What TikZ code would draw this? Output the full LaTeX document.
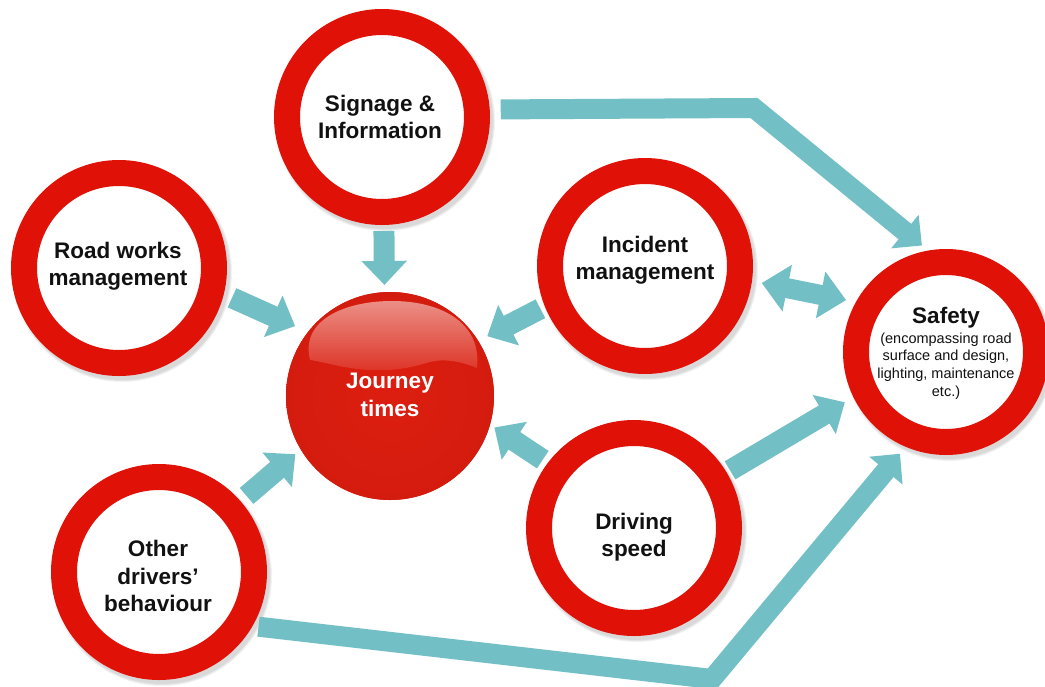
\documentclass[tikz,border=0pt]{standalone}
\usepackage{fontspec}
\setmainfont{Liberation Sans}
\usetikzlibrary{arrows.meta}
\definecolor{ringred}{HTML}{E01208}
\definecolor{tealc}{HTML}{72BFC5}
\definecolor{ballred}{HTML}{DC1E10}
\definecolor{ballout}{HTML}{D41C0E}
\definecolor{glosstop}{HTML}{EB8F86}
\definecolor{glossbot}{HTML}{DE3427}
\definecolor{txt}{HTML}{111111}
\begin{document}
\begin{tikzpicture}[x=1pt,y=-1pt,
  ring/.style={circle, draw=ringred, line width=26pt, fill=white, minimum size=#1, inner sep=0pt},
  lbl/.style={font=\fontsize{22.5}{27.5}\selectfont\bfseries, align=center, text=txt, inner sep=0pt},
  small/.style={font=\fontsize{14.5}{17.7}\selectfont, align=center, text=txt, inner sep=0pt},
  arr/.style={draw=tealc, line width=21pt, -{Triangle[width=44pt,length=24pt]}},
  darr/.style={draw=tealc, line width=20pt, {Triangle[width=46pt,length=26pt]}-{Triangle[width=46pt,length=26pt]}},
  barr/.style={draw=tealc, line width=20pt, -{Triangle[width=42pt,length=22pt]}},
  shadowc/.style={fill=black, opacity=0.05}
]
\useasboundingbox (0,0) rectangle (1045,686);
\fill[white] (0,0) rectangle (1045,686);

% soft shadows
\foreach \cx/\cy/\r in {382/117/108, 119/268/108, 645/266/108, 946/352/103, 634/528/108, 159/572/108}{
  \foreach \d in {0,1,2}{
    \fill[shadowc] (\cx+3,\cy+4) circle (\r+\d);
  }
}

% nodes
\node[ring=190pt] (sig) at (382,117) {};
\node[ring=190pt] (rw)  at (119,268) {};
\node[ring=190pt] (inc) at (645,266) {};
\node[ring=180pt] (saf) at (946,352) {};
\node[ring=190pt] (ds)  at (634,528) {};
\node[ring=190pt] (od)  at (159,572) {};
\node[circle, fill=ballred, minimum size=208pt, inner sep=0pt] (jt) at (390,396) {};
\shade[inner color=ballred, outer color=ballout] (390,396) circle (104);
\shade[top color=glosstop, bottom color=glossbot]
  (310,360) .. controls (300,320) and (345,301) .. (392,301)
  .. controls (440,301) and (482,322) .. (477,368)
  .. controls (462,362) and (445,358) .. (430,362)
  .. controls (410,368) and (395,371) .. (370,370)
  .. controls (345,369) and (325,362) .. (310,360) -- cycle;

% labels
\node[lbl] (sigt) at (380,117) {Signage \&\\Information};
\node[lbl] (rwt)  at (118,266) {Road works\\management};
\node[lbl] (inct) at (645,260) {Incident\\management};
\node[lbl, text=white] (jtt) at (390,395) {Journey\\times};
\node[lbl] (saft) at (946,318) {Safety};
\node[small] (safb) at (946,366) {(encompassing road\\surface and design,\\lighting, maintenance\\etc.)};
\node[lbl] (dst) at (634,537) {Driving\\speed};
\node[lbl] (odt) at (158,576) {Other\\drivers’\\behaviour};

% bend points
\coordinate (b1) at (754,108);
\coordinate (b2) at (712,679);

% connectors
\draw[arr, shorten <=6pt, shorten >=7pt] (sig.-89) -- (jt.93);
\draw[arr, shorten <=9pt, shorten >=14pt] (rw.-14.4) -- (jt.142);
\draw[arr, shorten <=5pt, shorten >=10pt] (inc.202) -- (jt.32);
\draw[arr, shorten <=6pt, shorten >=5pt] (ds.143) -- (jt.-16);
\draw[arr, shorten <=8pt, shorten >=7pt] (od.41.5) -- (jt.211);
\draw[darr, shorten <=10pt, shorten >=10pt] (inc.-8) -- (saf.151);
\draw[barr, shorten <=11pt, shorten >=8pt] (sig.4.4) -- (b1) -- (saf.100);
\draw[arr, shorten <=4pt, shorten >=10pt] (ds.31) -- (saf.206);
\draw[barr, shorten <=6pt, shorten >=9pt] (od.-30.6) -- (b2) -- (saf.247);
\end{tikzpicture}
\end{document}
